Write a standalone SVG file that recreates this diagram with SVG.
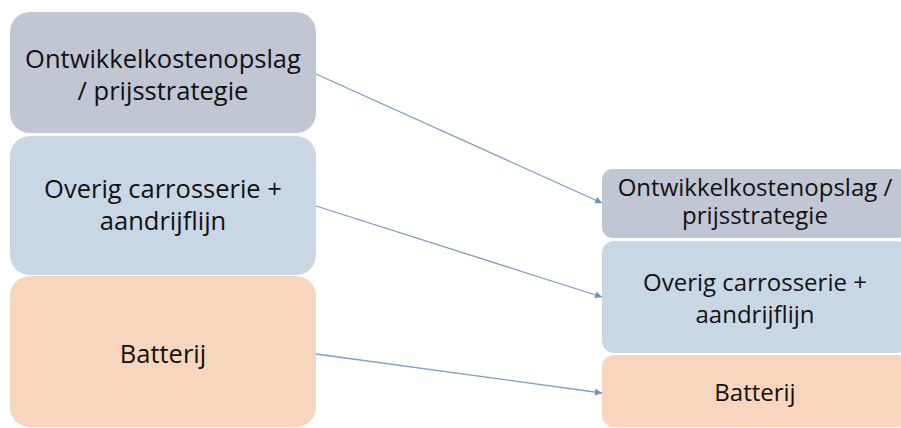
<svg xmlns="http://www.w3.org/2000/svg" width="901" height="428" viewBox="0 0 901 428">
<defs>
<style>
.t{font-family:"Open Sans","Noto Sans",sans-serif;font-size:25.5px;fill:#111;text-anchor:middle}
.r{font-size:24px}
.g{fill:#C0C6D2}
.b{fill:#C9D7E5}
.o{fill:#F8D6BE}
.c{stroke:#7E9DBF;stroke-width:1.3;fill:none;marker-end:url(#ah)}
</style>
<marker id="ah" viewBox="0 0 10 10" refX="10" refY="5" markerWidth="7" markerHeight="7" markerUnits="userSpaceOnUse" orient="auto">
<path d="M0,0 L10,5 L0,10 z" fill="#6E93BA"/>
</marker>
</defs>
<rect width="901" height="428" fill="#fff"/>
<g id="left-ontwikkel"><rect class="g" x="10" y="12" width="306" height="121" rx="20"/><text class="t" x="163" y="68">Ontwikkelkostenopslag</text><text class="t" x="163" y="100">/ prijsstrategie</text></g>
<g id="left-overig"><rect class="b" x="10" y="136" width="306" height="139" rx="20"/><text class="t" x="163" y="198">Overig carrosserie +</text><text class="t" x="163" y="230">aandrijflijn</text></g>
<g id="left-batterij"><rect class="o" x="10" y="276" width="306" height="151" rx="20"/><text class="t" x="163" y="363">Batterij</text></g>
<g id="right-ontwikkel"><rect class="g" x="602" y="169" width="306" height="69" rx="10"/><text class="t r" x="755" y="196">Ontwikkelkostenopslag /</text><text class="t r" x="755" y="224">prijsstrategie</text></g>
<g id="right-overig"><rect class="b" x="602" y="241" width="306" height="112" rx="12"/><text class="t r" x="755" y="291">Overig carrosserie +</text><text class="t r" x="755" y="323">aandrijflijn</text></g>
<g id="right-batterij"><rect class="o" x="602" y="355" width="306" height="72" rx="12"/><text class="t r" x="755" y="401">Batterij</text></g>
<g id="connectors">
<line class="c" x1="316" y1="74" x2="602" y2="203"/>
<line class="c" x1="316" y1="206" x2="602" y2="297"/>
<line class="c" x1="316" y1="354" x2="602" y2="393"/>
</g>
</svg>
